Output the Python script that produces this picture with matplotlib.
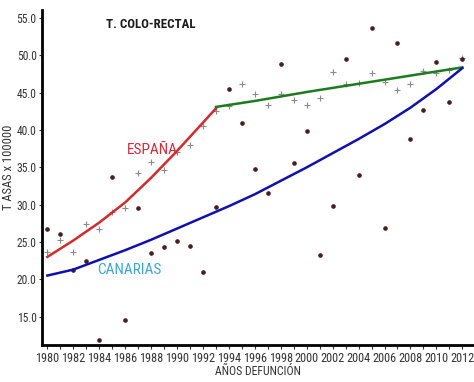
import numpy as np
import matplotlib
matplotlib.use('Agg')
import matplotlib.pyplot as plt
from matplotlib.ticker import MultipleLocator
from matplotlib import font_manager

names = set(f.name for f in font_manager.fontManager.ttflist)
fam = [n for n in ['Liberation Sans Narrow', 'DejaVu Sans Condensed', 'Roboto Condensed',
                   'Open Sans Condensed'] if n in names]
plt.rcParams['font.family'] = fam + ['Liberation Sans', 'DejaVu Sans']

years = np.arange(1980, 2013)

# observed rates, Canarias (dots)
canarias_obs = [26.7, 26.1, 21.2, 22.5, 11.9, 33.7, 14.5, 29.5, 23.5, 24.3,
                25.1, 24.4, 21.0, 29.7, 45.5, 41.0, 34.8, 31.6, 48.9, 35.6,
                39.9, 23.3, 29.8, 49.5, 34.0, 53.7, 26.9, 51.7, 38.8, 42.7,
                49.1, 43.8, 49.5]

# observed rates, España (crosses)
espana_obs = [23.7, 25.3, 23.7, 27.4, 26.8, 29.0, 29.5, 34.3, 35.7, 34.6,
              37.1, 38.0, 40.6, 42.5, 43.2, 46.2, 44.8, 43.4, 44.8, 44.0,
              43.4, 44.3, 47.8, 46.2, 46.3, 47.6, 46.5, 45.4, 46.2, 47.9,
              47.7, 48.1, 49.6]

# fitted trends
esp1_years = [1980, 1982, 1984, 1986, 1988, 1990, 1992, 1993]
esp1_vals = [23.0, 25.2, 27.6, 30.3, 33.6, 37.2, 41.0, 42.9]
esp2_years = [1993, 1996, 2000, 2004, 2008, 2012]
esp2_vals = [43.1, 43.9, 45.1, 46.2, 47.3, 48.4]
can_years = [1980, 1982, 1984, 1986, 1988, 1990, 1992, 1994, 1996, 1998,
             2000, 2002, 2004, 2006, 2008, 2010, 2012]
can_vals = [20.5, 21.3, 22.6, 23.9, 25.3, 26.8, 28.3, 29.8, 31.4, 33.2,
            35.0, 36.9, 38.8, 40.8, 43.0, 45.5, 48.3]

fig = plt.figure(figsize=(4.74, 3.82), dpi=100)
ax = fig.add_axes([0.089, 0.097, 0.911, 0.877])

ax.plot(years, espana_obs, '+', color='#8a8a8a', ms=5, mew=0.8, zorder=2)
ax.plot(years, canarias_obs, 'o', color='#4a1c22', ms=2.3, zorder=2)
ax.plot(esp1_years, esp1_vals, color='#d42a2a', lw=1.8, zorder=3)
ax.plot(esp2_years, esp2_vals, color='#1e7a1e', lw=1.8, zorder=3)
ax.plot(can_years, can_vals, color='#1010b0', lw=1.8, zorder=3)

ax.text(1984.5, 54.1, 'T. COLO-RECTAL', fontsize=9.3, fontweight='bold',
        color='#1a1a1a', va='center')
ax.text(1986.1, 37.3, 'ESPAÑA', fontsize=11, color='#d42a3a', va='center')
ax.text(1983.8, 21.3, 'CANARIAS', fontsize=11, color='#3aa6dc', va='center')

ax.set_xlim(1979.6, 2012.9)
ax.set_ylim(11.2, 56.1)
ax.xaxis.set_major_locator(MultipleLocator(2))
ax.xaxis.set_minor_locator(MultipleLocator(1))
ax.set_yticks(np.arange(15, 56, 5))
ax.set_yticklabels(['%.1f' % v for v in np.arange(15, 56, 5)])

for s in ['top', 'right']:
    ax.spines[s].set_visible(False)
for s in ['left', 'bottom']:
    ax.spines[s].set_linewidth(2)

ax.tick_params(axis='x', which='both', length=3, width=0.8, labelsize=8.8,
               colors='#333333', pad=2)
ax.tick_params(axis='y', length=2, width=0.8, labelsize=8.3, colors='#333333',
               pad=2)
ax.set_xlabel('AÑOS DEFUNCIÓN', fontsize=8.5, color='#333333', labelpad=0)
ax.set_ylabel('T ASAS x 100000', fontsize=9, color='#333333')
ax.yaxis.set_label_coords(-0.062, 0.53)

fig.savefig('out.png', dpi=100)
